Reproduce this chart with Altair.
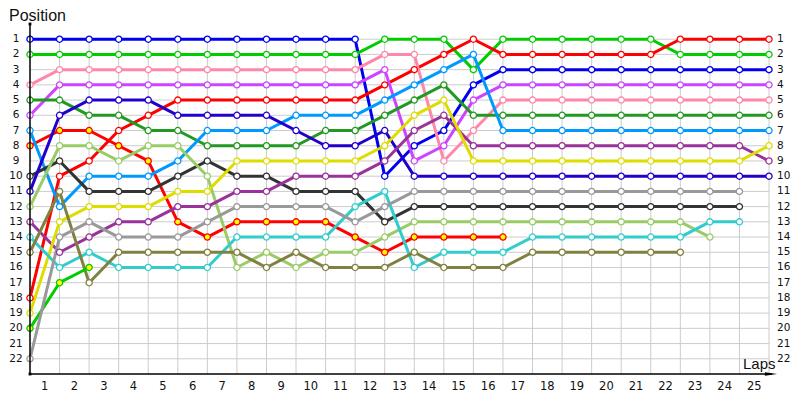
import altair as alt
import pandas as pd

# ---------------- data (positions per lap, lap 0 = grid) ----------------
lap_labels = list(range(1, 26))
position_labels = list(range(1, 23))

drivers = ["blue", "green", "red", "red_y", "pink", "violet", "fgreen", "lblue",
           "black", "dblue", "lgreen", "purple", "yellow", "turq", "olive",
           "green_y", "gray"]
colors = ["#0000f0", "#00cc00", "#ff0000", "#ff0000", "#ff88aa", "#cc44ff",
          "#229922", "#0099ff", "#333333", "#2200cc", "#99cc66", "#993399",
          "#dddd00", "#33cccc", "#808040", "#00cc00", "#999999"]
fills = ["white", "white", "white", "#ffff00", "white", "white", "white", "white",
         "white", "white", "white", "white", "white", "white", "white",
         "#ffff00", "white"]

blue = [1, 1, 1, 1, 1, 1, 1, 1, 1, 1, 1, 1, 10, 8, 7, 4, 3, 3, 3, 3, 3, 3, 3, 3, 3, 3]
green = [2, 2, 2, 2, 2, 2, 2, 2, 2, 2, 2, 2, 1, 1, 1, 3, 1, 1, 1, 1, 1, 1, 2, 2, 2, 2]
red = [18, 10, 9, 7, 6, 5, 5, 5, 5, 5, 5, 5, 4, 3, 2, 1, 2, 2, 2, 2, 2, 2, 1, 1, 1, 1]
red_y = [8, 7, 7, 8, 9, 13, 14, 13, 13, 13, 13, 14, 15, 14, 14, 14, 14]
pink = [4, 3, 3, 3, 3, 3, 3, 3, 3, 3, 3, 3, 2, 2, 9, 7, 5, 5, 5, 5, 5, 5, 5, 5, 5, 5]
violet = [6, 4, 4, 4, 4, 4, 4, 4, 4, 4, 4, 4, 3, 9, 8, 5, 4, 4, 4, 4, 4, 4, 4, 4, 4, 4]
fgreen = [5, 5, 6, 6, 7, 7, 8, 8, 8, 8, 7, 7, 6, 5, 4, 6, 6, 6, 6, 6, 6, 6, 6, 6, 6, 6]
lblue = [7, 12, 10, 10, 10, 9, 7, 7, 7, 6, 6, 6, 5, 4, 3, 2, 7, 7, 7, 7, 7, 7, 7, 7, 7, 7]
black = [10, 9, 11, 11, 11, 10, 9, 10, 10, 11, 11, 11, 13, 12, 12, 12, 12, 12, 12, 12, 12, 12, 12, 12, 12]
dblue = [11, 6, 5, 5, 5, 6, 6, 6, 6, 7, 8, 8, 7, 10, 10, 10, 10, 10, 10, 10, 10, 10, 10, 10, 10, 10]
lgreen = [12, 8, 8, 9, 8, 8, 10, 16, 15, 16, 15, 15, 14, 13, 13, 13, 13, 13, 13, 13, 13, 13, 13, 14]
purple = [13, 15, 14, 13, 13, 12, 12, 11, 11, 10, 10, 10, 9, 7, 6, 8, 8, 8, 8, 8, 8, 8, 8, 8, 8, 9]
yellow = [19, 13, 12, 12, 12, 11, 11, 9, 9, 9, 9, 9, 8, 6, 5, 9, 9, 9, 9, 9, 9, 9, 9, 9, 9, 8]
turq = [14, 16, 15, 16, 16, 16, 16, 14, 14, 14, 14, 12, 11, 16, 15, 15, 15, 14, 14, 14, 14, 14, 14, 13, 13]
olive = [15, 11, 17, 15, 15, 15, 15, 15, 16, 15, 16, 16, 16, 15, 16, 16, 16, 15, 15, 15, 15, 15, 15]
green_y = [20, 17, 16]
gray = [22, 14, 13, 14, 14, 14, 13, 12, 12, 12, 12, 13, 12, 11, 11, 11, 11, 11, 11, 11, 11, 11, 11, 11, 11]

series = [blue, green, red, red_y, pink, violet, fgreen, lblue, black, dblue,
          lgreen, purple, yellow, turq, olive, green_y, gray]

rows = []
for d, f, vals in zip(drivers, fills, series):
    for lap, p in enumerate(vals):
        rows.append({"driver": d, "fillc": f, "lap": lap, "pos": p})
df = pd.DataFrame(rows)

lap_df = pd.DataFrame({"lap": lap_labels})
pos_df = pd.DataFrame({"pos": position_labels})
one = pd.DataFrame({"a": [0]})

W, H = 739, 350
xs = alt.Scale(domain=[0, 25], nice=False, zero=False)
ys = alt.Scale(domain=[0, 23], nice=False, zero=False, reverse=True)


def X(f):
    return alt.X(f, scale=xs, axis=None)


def Y(f):
    return alt.Y(f, scale=ys, axis=None)


cscale = alt.Scale(domain=drivers, range=colors)
grid_c = "#cccccc"
num_font = "DejaVu Sans"

hgrid = alt.Chart(pos_df).transform_calculate(x0="0", x1="25").mark_rule(
    color=grid_c, strokeWidth=1).encode(y=Y("pos:Q"), x=X("x0:Q"), x2="x1:Q")
vgrid = alt.Chart(lap_df).transform_calculate(y0="1", y1="23").mark_rule(
    color=grid_c, strokeWidth=1).encode(x=X("lap:Q"), y=Y("y0:Q"), y2="y1:Q")

yaxis = alt.Chart(one).mark_rule(color="black", strokeWidth=1.5).encode(
    x=alt.value(0), y=alt.value(0), y2=alt.value(H))
xaxis = alt.Chart(one).mark_rule(color="black", strokeWidth=1.5).encode(
    y=alt.value(H), x=alt.value(0), x2=alt.value(742))
arrow = alt.Chart(one).mark_point(
    shape="M-1,-0.3L1,0L-1,0.3Z", filled=True, color="black", size=150, opacity=1
).encode(x=alt.value(741), y=alt.value(H))
dot_top = alt.Chart(one).mark_point(
    shape="square", filled=True, color="black", size=8, opacity=1
).encode(x=alt.value(0), y=alt.value(0))
dot_bot = alt.Chart(one).mark_point(
    shape="square", filled=True, color="black", size=8, opacity=1
).encode(x=alt.value(0), y=alt.value(H))

lines = alt.Chart(df).mark_line(strokeWidth=3, strokeJoin="round").encode(
    x=X("lap:Q"), y=Y("pos:Q"),
    color=alt.Color("driver:N", scale=cscale, legend=None),
    order=alt.Order("lap:Q"))

points = alt.Chart(df).mark_point(
    shape="circle", filled=True, size=38, strokeWidth=1.3, opacity=1,
    fillOpacity=1, strokeOpacity=1
).encode(
    x=X("lap:Q"), y=Y("pos:Q"),
    stroke=alt.Stroke("driver:N", scale=cscale, legend=None),
    fill=alt.Fill("fillc:N", scale=None))

ylab_left = alt.Chart(pos_df).mark_text(
    align="center", baseline="middle", font=num_font, fontSize=10.5, color="#111111"
).encode(x=alt.value(-14), y=Y("pos:Q"), text="pos:Q")
ylab_right = alt.Chart(pos_df).mark_text(
    align="left", baseline="middle", font=num_font, fontSize=10.5, color="#111111"
).encode(x=alt.value(747), y=Y("pos:Q"), text="pos:Q")
xlab = alt.Chart(lap_df).transform_calculate(mid="datum.lap - 0.5").mark_text(
    align="center", baseline="middle", font=num_font, fontSize=11.5, color="#111111"
).encode(x=X("mid:Q"), y=alt.value(H + 13), text="lap:Q")

title_pos = alt.Chart(one).mark_text(
    text="Position", align="left", baseline="alphabetic",
    font="Liberation Sans", fontSize=16, color="#111111"
).encode(x=alt.value(-21), y=alt.value(-3))
title_laps = alt.Chart(one).mark_text(
    text="Laps", align="left", baseline="alphabetic",
    font="Liberation Sans", fontSize=15, color="#111111"
).encode(x=alt.value(713), y=alt.value(H - 5))

chart = alt.layer(
    hgrid, vgrid, lines, points, yaxis, xaxis, arrow, dot_top, dot_bot,
    ylab_left, ylab_right, xlab, title_pos, title_laps
).properties(
    width=W, height=H,
    autosize=alt.AutoSizeParams(type="none"),
    padding={"left": 22, "top": 16, "right": 23, "bottom": 18},
    background="white",
).configure_view(stroke=None)

chart.save("out.html", embed_options={"renderer": "svg", "actions": False})
